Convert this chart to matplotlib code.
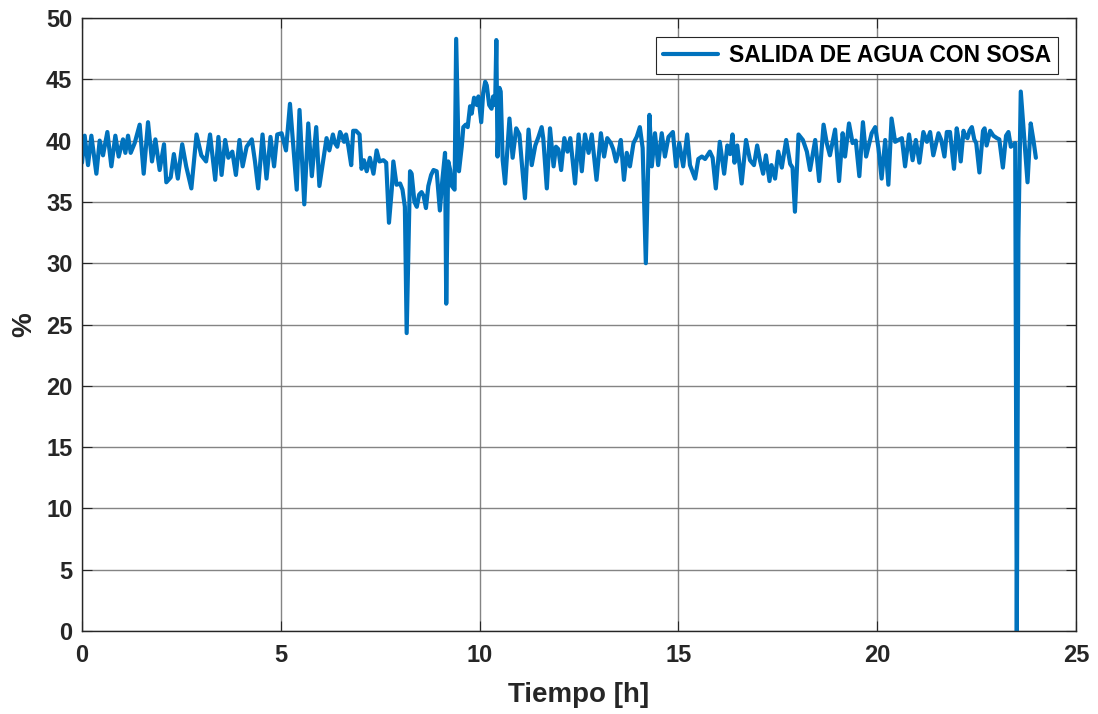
import matplotlib
matplotlib.use("Agg")
import matplotlib.pyplot as plt

plt.rcParams['font.family'] = ['Liberation Sans', 'DejaVu Sans']

tiempo_h = [
    0.0, 0.067, 0.151, 0.235, 0.361, 0.444, 0.528, 0.637, 0.738, 0.838, 0.922,
    1.031, 1.090, 1.157, 1.224, 1.325, 1.45, 1.551, 1.66, 1.76, 1.845, 1.953,
    2.062, 2.12, 2.23, 2.31, 2.41, 2.52, 2.62, 2.75, 2.88, 3.0, 3.12, 3.22,
    3.35, 3.43, 3.51, 3.60, 3.68, 3.78, 3.87, 3.96, 4.04, 4.14, 4.27, 4.35,
    4.43, 4.54, 4.64, 4.74, 4.83, 4.91, 5.02, 5.13, 5.23, 5.40, 5.47, 5.59,
    5.69, 5.78, 5.89, 5.97, 6.15, 6.22, 6.31, 6.36, 6.42, 6.49, 6.55, 6.59,
    6.64, 6.70, 6.77, 6.82, 6.89, 6.98, 7.03, 7.09, 7.16, 7.24, 7.33, 7.41,
    7.48, 7.58, 7.65, 7.72, 7.79, 7.83, 7.91, 8.0, 8.06, 8.12, 8.165, 8.25,
    8.29, 8.36, 8.42, 8.48, 8.54, 8.59, 8.65, 8.71, 8.78, 8.84, 8.92, 9.0,
    9.06, 9.13, 9.16, 9.21, 9.26, 9.30, 9.37, 9.41, 9.48, 9.55, 9.59, 9.65,
    9.70, 9.76, 9.80, 9.86, 9.93, 9.97, 10.04, 10.09, 10.14, 10.18, 10.24,
    10.30, 10.34, 10.39, 10.42, 10.45, 10.50, 10.53, 10.58, 10.64, 10.75,
    10.83, 10.92, 11.0, 11.06, 11.14, 11.23, 11.31, 11.40, 11.48, 11.56,
    11.60, 11.69, 11.77, 11.86, 11.92, 11.98, 12.05, 12.13, 12.21, 12.28,
    12.40, 12.49, 12.57, 12.65, 12.74, 12.82, 12.94, 13.05, 13.13, 13.21,
    13.30, 13.36, 13.43, 13.49, 13.55, 13.63, 13.70, 13.78, 13.87, 13.95,
    14.03, 14.10, 14.18, 14.27, 14.33, 14.41, 14.49, 14.58, 14.66, 14.75,
    14.86, 14.94, 15.02, 15.12, 15.22, 15.29, 15.42, 15.50, 15.59, 15.67,
    15.79, 15.86, 15.94, 16.04, 16.15, 16.23, 16.30, 16.36, 16.41, 16.48,
    16.59, 16.70, 16.80, 16.90, 16.98, 17.05, 17.13, 17.20, 17.29, 17.34,
    17.43, 17.51, 17.60, 17.71, 17.81, 17.87, 17.93, 18.02, 18.13, 18.23,
    18.31, 18.44, 18.54, 18.65, 18.73, 18.81, 18.94, 19.04, 19.13, 19.19,
    19.29, 19.38, 19.46, 19.55, 19.64, 19.72, 19.80, 19.86, 19.95, 20.03,
    20.11, 20.20, 20.28, 20.36, 20.45, 20.53, 20.62, 20.70, 20.80, 20.89,
    20.97, 21.06, 21.16, 21.25, 21.33, 21.41, 21.54, 21.61, 21.69, 21.75,
    21.83, 21.93, 21.999, 22.04, 22.10, 22.17, 22.21, 22.27, 22.32, 22.38,
    22.44, 22.49, 22.57, 22.66, 22.70, 22.75, 22.84, 22.92, 23.01, 23.07,
    23.16, 23.24, 23.30, 23.36, 23.47, 23.51, 23.55, 23.61, 23.69, 23.78,
    23.86, 23.93, 23.99,
]

salida_agua_sosa = [
    38.2, 40.4, 38.0, 40.4, 37.3, 40.0, 38.8, 40.7, 37.9, 40.4, 38.7,
    40.1, 39.0, 40.4, 39.0, 39.8, 41.3, 37.3, 41.5, 38.3, 40.1, 37.6,
    39.7, 36.6, 37.0, 38.9, 36.9, 39.7, 37.9, 36.1, 40.5, 38.8, 38.3, 40.5,
    36.8, 40.3, 37.2, 40.05, 38.6, 39.1, 37.2, 40.05, 37.9, 39.5, 40.1, 38.3,
    36.1, 40.5, 36.9, 40.3, 37.9, 40.5, 40.6, 39.2, 43.0, 36.0, 42.5, 34.8,
    41.4, 37.1, 41.1, 36.3, 40.2, 39.2, 40.5, 39.8, 39.5, 40.7, 40.3, 39.9,
    40.5, 39.5, 38.0, 40.8, 40.8, 40.5, 37.7, 38.4, 37.5, 38.6, 37.3, 39.2,
    38.3, 38.4, 38.2, 33.3, 36.0, 38.3, 36.4, 36.5, 36.0, 34.6, 24.3, 37.5,
    37.3, 35.0, 34.6, 35.6, 35.8, 35.5, 34.5, 36.3, 37.2, 37.6, 37.5, 34.3,
    36.7, 39.0, 26.7, 38.3, 37.6, 36.3, 36.0, 48.3, 37.5, 39.5, 41.1, 41.3,
    41.1, 42.8, 42.2, 43.5, 42.9, 43.6, 41.5, 43.9, 44.8, 44.5, 42.9,
    42.6, 43.6, 42.9, 48.2, 38.7, 44.3, 44.0, 38.4, 36.5, 41.8,
    38.6, 41.0, 40.5, 38.2, 35.3, 40.9, 38.0, 39.6, 40.3, 41.1,
    40.2, 36.1, 41.0, 37.9, 39.5, 39.3, 37.6, 40.2, 39.1, 40.2,
    36.5, 40.5, 37.5, 40.5, 39.0, 40.5, 36.8, 40.6, 38.7, 40.2,
    39.8, 39.3, 38.3, 39.0, 40.05, 36.8, 39.0, 37.9, 39.8, 40.3,
    41.1, 39.4, 30.0, 42.1, 37.9, 40.6, 38.0, 40.6, 38.7, 40.3,
    40.7, 37.9, 39.8, 37.9, 40.5, 38.0, 36.9, 38.5, 38.7, 38.5,
    39.1, 38.6, 36.1, 39.9, 37.3, 39.6, 38.9, 40.5, 38.2, 39.6,
    36.5, 40.05, 38.4, 38.0, 39.6, 38.4, 37.3, 38.8, 36.7, 38.0,
    36.9, 39.1, 37.8, 40.05, 38.1, 37.8, 34.2, 40.5, 40.05, 39.1,
    37.6, 40.05, 36.7, 41.3, 39.8, 38.8, 40.9, 36.7, 40.6, 38.7,
    41.4, 39.8, 40.0, 37.1, 41.5, 38.7, 39.8, 40.6, 41.1, 39.4,
    36.9, 40.05, 36.4, 41.8, 39.9, 40.05, 40.2, 37.9, 40.5, 38.4,
    40.05, 38.2, 40.7, 39.9, 40.7, 38.8, 40.6, 40.05, 38.7, 40.7,
    40.7, 37.7, 41.0, 40.2, 38.3, 40.8, 40.4, 40.2, 40.8, 41.1,
    40.1, 39.8, 37.4, 40.8, 41.0, 39.6, 40.8, 40.4, 40.2, 40.1,
    37.8, 40.4, 40.7, 39.5, 39.8, 0.0, 32.0, 44.0, 40.5, 36.6,
    41.4, 40.0, 38.6,
]

serie_label = "SALIDA DE AGUA CON SOSA"
x_ticks = [0, 5, 10, 15, 20, 25]
y_ticks = [0, 5, 10, 15, 20, 25, 30, 35, 40, 45, 50]

fig = plt.figure(figsize=(10.98, 7.14), dpi=100)
ax = fig.add_axes([0.0747, 0.1162, 0.9053, 0.8586])

ax.plot(tiempo_h, salida_agua_sosa, color='#0072BD', lw=3.0,
        label=serie_label, solid_joinstyle='round', solid_capstyle='round')

ax.set_xlim(0, 25)
ax.set_ylim(0, 50)
ax.set_xticks(x_ticks)
ax.set_yticks(y_ticks)
ax.grid(True, color='#6e6e6e', lw=1.0, alpha=0.85)
ax.set_axisbelow(True)
ax.tick_params(direction='in', length=7, width=0.8, top=True, right=True,
               labelsize=17, pad=7, colors='#262626')
ax.tick_params(axis='x', pad=9)
for lbl in ax.get_xticklabels() + ax.get_yticklabels():
    lbl.set_fontweight('bold')
for sp in ax.spines.values():
    sp.set_color('#262626')
    sp.set_linewidth(1.0)

ax.set_xlabel("Tiempo [h]", fontsize=20, fontweight='bold', color='#262626', labelpad=11)
ax.set_ylabel("%", fontsize=20, fontweight='bold', color='#262626', labelpad=6)

leg = ax.legend(loc='upper right', prop={'weight': 'bold', 'size': 16.5},
                frameon=True, fancybox=False, edgecolor='#262626', framealpha=1,
                handlelength=2.4, handletextpad=0.5, borderpad=0.3,
                borderaxespad=0.0, bbox_to_anchor=(0.982, 0.969))
leg.get_frame().set_linewidth(0.8)

fig.savefig("out.png", dpi=100)
